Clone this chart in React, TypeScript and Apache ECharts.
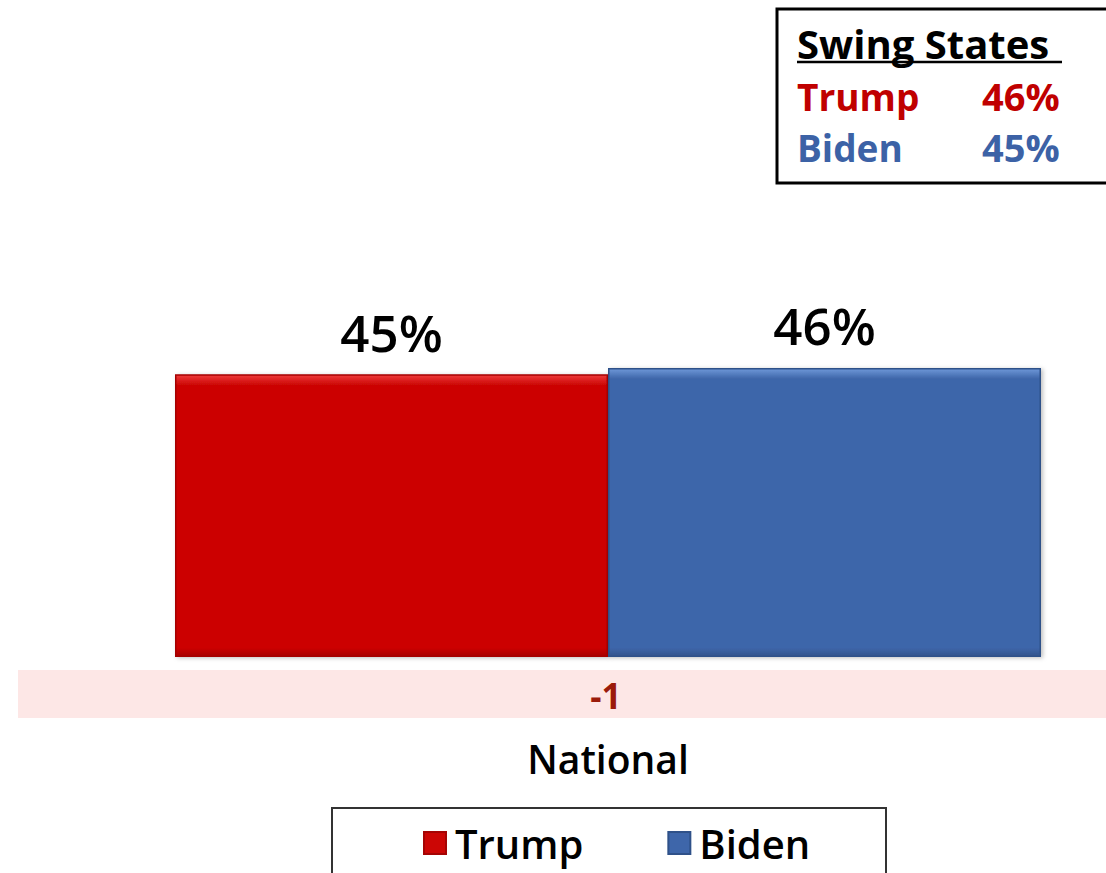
import React, { useEffect, useRef } from "react";
import * as echarts from "echarts";

const categories = ["National"];
const seriesNames = ["Trump", "Biden"];
const trumpValues = [45];
const bidenValues = [46];
const marginLabels = ["-1"];
const swingTitle = "Swing States";
const swingNames = ["Trump", "Biden"];
const swingValues = ["46%", "45%"];

const RED = "#CC0605";
const BLUE = "#3E66AA";
const FONT = "'Open Sans', 'Noto Sans', sans-serif";

export default function App() {
  const ref = useRef<HTMLDivElement>(null);
  useEffect(() => {
    const chart = echarts.init(ref.current!, null, { renderer: "svg" });
    const grad = (top: string, mid: string, bottom: string) =>
      new echarts.graphic.LinearGradient(0, 0, 0, 1, [
        { offset: 0, color: top },
        { offset: 0.035, color: mid },
        { offset: 0.97, color: mid },
        { offset: 1, color: bottom },
      ]);
    const barStyle = (c: any, border: string) => ({
      color: c,
      borderColor: border,
      borderWidth: 1.5,
      shadowColor: "rgba(0,0,0,0.25)",
      shadowBlur: 4,
      shadowOffsetX: 2,
      shadowOffsetY: 1,
    });
    const barLabel = {
      show: true,
      position: "top",
      distance: 17,
      formatter: "{c}%",
      fontSize: 51,
      color: "#000",
      fontFamily: FONT,
      fontWeight: 600,
    };
    const swingText = (text: string, x: number, y: number, fill: string, size: number) => ({
      type: "text",
      x,
      y,
      style: {
        text,
        fill,
        font: `bold ${size}px ${FONT}`,
        textVerticalAlign: "middle",
      },
    });
    chart.setOption({
      animation: false,
      textStyle: { fontFamily: FONT },
      grid: { left: 175, right: 65, top: 280, bottom: 216 },
      xAxis: {
        type: "category",
        data: categories,
        axisLine: { show: false },
        axisTick: { show: false },
        axisLabel: {
          margin: 82,
          fontSize: 39,
          fontWeight: 600,
          color: "#000",
          fontFamily: FONT,
        },
      },
      yAxis: {
        type: "value",
        min: 0,
        max: 60,
        show: false,
        splitLine: { show: false },
      },
      legend: {
        data: seriesNames,
        left: 418,
        top: 818,
        icon: "rect",
        itemWidth: 22,
        itemHeight: 22,
        itemGap: 84,
        textStyle: {
          fontSize: 40,
          color: "#000",
          fontFamily: FONT,
          fontWeight: 600,
          padding: [0, 0, 0, 4],
        },
      },
      series: [
        {
          name: seriesNames[0],
          type: "bar",
          data: trumpValues,
          barGap: "0%",
          barCategoryGap: "0%",
          itemStyle: barStyle(grad("#EE3A3A", RED, "#A80404"), "#A50404"),
          label: barLabel,
        },
        {
          name: seriesNames[1],
          type: "bar",
          data: bidenValues,
          barGap: "0%",
          barCategoryGap: "0%",
          itemStyle: barStyle(grad("#6F98D8", BLUE, "#32548C"), "#2F5189"),
          label: barLabel,
        },
      ],
      graphic: [
        {
          type: "rect",
          shape: { x: 18, y: 670, width: 1088, height: 48 },
          style: { fill: "#FDE7E6" },
          z: 0,
        },
        {
          type: "text",
          x: 606,
          y: 695,
          style: {
            text: marginLabels[0],
            fill: "#9B1B0B",
            font: `bold 35px ${FONT}`,
            textAlign: "center",
            textVerticalAlign: "middle",
          },
        },
        {
          type: "rect",
          shape: { x: 332, y: 808, width: 554, height: 100 },
          style: { fill: "none", stroke: "#333", lineWidth: 2 },
        },
        {
          type: "rect",
          shape: { x: 777, y: 9, width: 340, height: 174 },
          style: { fill: "#fff", stroke: "#000", lineWidth: 3 },
        },
        swingText(swingTitle, 797, 43, "#000", 40),
        {
          type: "line",
          shape: { x1: 797, y1: 62, x2: 1062, y2: 62 },
          style: { stroke: "#000", lineWidth: 2.5 },
        },
        swingText(swingNames[0], 797, 96, "#C00000", 37),
        swingText(swingValues[0], 982, 96, "#C00000", 38),
        swingText(swingNames[1], 797, 147, "#3C62A6", 37),
        swingText(swingValues[1], 982, 147, "#3C62A6", 38),
      ],
    });
    return () => chart.dispose();
  }, []);
  return <div ref={ref} style={{ width: 1106, height: 873, position: "absolute", left: 0, top: 0 }} />;
}
